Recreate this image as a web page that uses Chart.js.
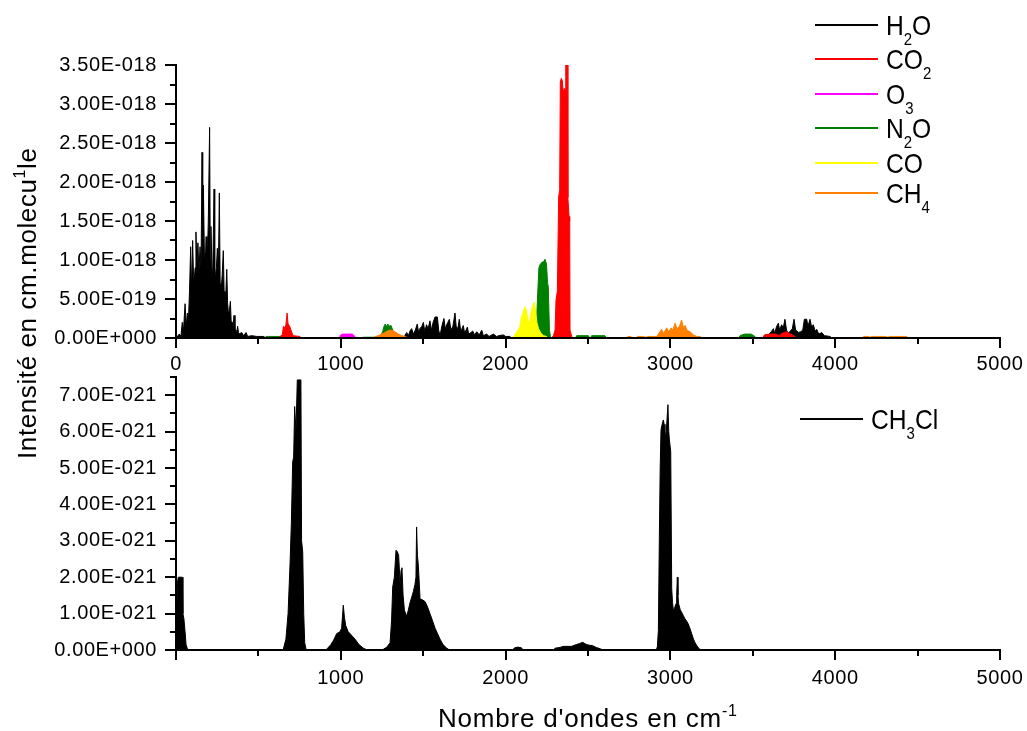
<!DOCTYPE html>
<html lang="fr">
<head>
<meta charset="UTF-8">
<title>Intensités des raies</title>
<script src="https://cdn.jsdelivr.net/npm/chart.js"></script>
<style>
  body { margin: 0; background: #fff; }
  #cadre { position: relative; width: 1027px; height: 731px; }
  #cadre canvas { position: absolute; left: 0; top: 0; }
</style>
</head>
<body>
<div id="cadre">
  <canvas id="haut" width="1027" height="731"></canvas>
  <canvas id="bas" width="1027" height="731"></canvas>
</div>
<script>
// [nombre d'onde cm-1, intensité en 1e-18] pour le panneau du haut
const h2o = [[0,0],[20,0.05],[30,0.02],[38,0.20],[45,0.08],[55,0.44],[62,0.15],[69,0.32],[76,0.25],[82,0.60],
  [89,1.17],[95,0.60],[101,1.25],[106,0.80],[111,0.75],[116,0.90],[121,1.36],[127,0.90],[133,1.22],[139,0.85],
  [146,1.17],[152,0.90],[158,2.38],[162,1.00],[166,1.96],[172,1.10],[178,1.00],[183,1.30],[188,0.85],[196,1.50],
  [204,2.70],[208,1.00],[212,1.43],[218,0.90],[223,0.83],[231,1.91],[235,0.80],[239,0.80],[245,0.90],[251,1.15],
  [257,0.80],[263,1.86],[268,0.70],[273,0.60],[280,0.80],[287,1.12],[292,0.60],[297,0.55],[303,0.60],[308,0.88],
  [313,0.45],[318,0.32],[324,0.35],[330,0.47],[335,0.20],[340,0.21],[346,0.15],[352,0.29],[358,0.10],[364,0.10],
  [369,0.08],[374,0.15],[380,0.05],[390,0.06],[399,0.07],[410,0.03],[425,0.07],[435,0.02],[459,0.03],[490,0.02],
  [528,0.02],[550,0],
  [1380,0],[1400,0.07],[1410,0.03],[1420,0.09],[1430,0.12],[1440,0.05],[1452,0.10],[1464,0.18],[1472,0.07],[1480,0.12],
  [1492,0.15],[1501,0.20],[1510,0.08],[1520,0.17],[1530,0.12],[1541,0.22],[1550,0.10],[1560,0.20],[1572,0.27],[1586,0.27],
  [1594,0.10],[1602,0.03],[1614,0.16],[1626,0.25],[1634,0.12],[1645,0.18],[1659,0.24],[1668,0.10],[1680,0.15],[1693,0.32],
  [1700,0.15],[1710,0.12],[1719,0.24],[1728,0.08],[1743,0.16],[1752,0.06],[1768,0.14],[1776,0.05],[1790,0.07],[1800,0.09],
  [1812,0.04],[1825,0.08],[1840,0.04],[1855,0.10],[1865,0.03],[1885,0.05],[1900,0.02],[1926,0.05],[1945,0.02],[1960,0.03],
  [1986,0.04],[2000,0.02],[2027,0.02],[2035,0],
  [3560,0],[3580,0.02],[3600,0.05],[3612,0.08],[3625,0.12],[3633,0.06],[3643,0.14],[3655,0.19],[3663,0.10],[3675,0.17],
  [3685,0.13],[3695,0.24],[3705,0.10],[3715,0.06],[3728,0.09],[3740,0.12],[3750,0.24],[3760,0.10],[3768,0.09],[3776,0.07],
  [3790,0.08],[3803,0.10],[3813,0.24],[3827,0.24],[3835,0.15],[3847,0.24],[3857,0.14],[3867,0.17],[3878,0.09],[3888,0.11],
  [3900,0.05],[3918,0.07],[3935,0.03],[3968,0.02],[3980,0]];

const co2 = [[620,0],[631,0.02],[645,0.04],[652,0.15],[660,0.13],[667,0.17],[674,0.32],[680,0.18],[690,0.15],[698,0.10],
  [710,0.03],[752,0.02],[760,0],
  [2280,0],[2290,0.03],[2300,0.10],[2306,0.49],[2314,0.60],[2322,1.81],[2328,1.90],[2332,3.28],[2338,3.33],[2344,3.30],
  [2350,3.14],[2356,3.20],[2361,3.18],[2365,3.50],[2374,3.50],[2378,1.80],[2385,1.56],[2389,1.50],[2391,0.10],[2401,0.02],[2410,0],
  [3560,0],[3570,0.04],[3600,0.05],[3640,0.05],[3660,0.03],[3670,0.05],[3690,0.07],[3705,0.08],[3720,0.06],[3740,0.04],
  [3755,0.02],[3765,0]];

const o3 = [[990,0],[995,0.03],[1010,0.05],[1070,0.05],[1086,0.02],[1092,0]];

const n2o = [[540,0],[546,0.02],[631,0.02],[640,0],
  [1130,0],[1137,0.01],[1208,0.01],[1240,0.03],[1254,0.08],[1262,0.15],[1270,0.18],[1278,0.14],[1285,0.18],[1295,0.15],
  [1305,0.16],[1315,0.10],[1323,0.05],[1330,0],
  [2180,0],[2189,0.27],[2195,0.58],[2202,0.90],[2209,0.94],[2220,0.97],[2232,0.98],[2239,1.01],[2248,0.95],[2255,0.70],
  [2259,0.66],[2266,0.10],[2272,0.02],[2280,0],
  [2425,0],[2431,0.03],[2502,0.03],[2510,0],[2515,0],[2522,0.03],[2603,0.03],[2610,0],
  [3415,0],[3422,0.03],[3450,0.05],[3490,0.05],[3513,0.02],[3520,0]];

const co = [[2040,0],[2050,0.02],[2060,0.05],[2075,0.10],[2087,0.15],[2095,0.25],[2105,0.32],[2113,0.38],[2120,0.40],
  [2128,0.33],[2136,0.22],[2144,0.19],[2152,0.30],[2160,0.38],[2168,0.43],[2174,0.46],[2182,0.35],[2190,0.20],[2200,0.12],
  [2215,0.06],[2230,0.03],[2249,0.02],[2255,0]];

const ch4 = [[1200,0],[1208,0.02],[1230,0.03],[1245,0.05],[1260,0.06],[1275,0.08],[1285,0.09],[1295,0.10],[1306,0.10],
  [1320,0.09],[1335,0.07],[1350,0.05],[1370,0.03],[1390,0.02],[1395,0],
  [2735,0],[2743,0.02],[2760,0.02],[2765,0],[2790,0],[2800,0.02],[2830,0.02],[2850,0.01],[2870,0.02],[2917,0.02],
  [2930,0.06],[2947,0.11],[2960,0.06],[2977,0.13],[2990,0.08],[3005,0.13],[3015,0.10],[3028,0.19],[3040,0.12],[3055,0.15],
  [3068,0.23],[3078,0.14],[3090,0.16],[3100,0.10],[3119,0.08],[3140,0.04],[3160,0.02],[3180,0.02],[3190,0],
  [4165,0],[4171,0.02],[4200,0.02],[4210,0.01],[4225,0.02],[4300,0.02],[4320,0.01],[4330,0.02],[4434,0.02],[4440,0]];

// [nombre d'onde cm-1, intensité en 1e-21] pour le panneau du bas
const ch3cl = [[0,1.10],[4,1.09],[10,1.90],[14,2.00],[38,2.00],[42,1.00],[48,0.86],[55,0.50],[61,0.15],[70,0.02],[80,0],
  [650,0],[667,0.30],[680,1.00],[692,2.37],[700,3.50],[708,5.17],[714,5.30],[720,6.69],[728,6.00],[736,7.42],[758,7.42],
  [762,3.00],[769,2.69],[775,1.00],[781,0.20],[790,0],
  [900,0],[914,0.02],[940,0.15],[960,0.30],[975,0.45],[995,0.50],[1005,0.60],[1015,1.23],[1022,0.90],[1030,0.67],
  [1045,0.50],[1056,0.45],[1070,0.38],[1086,0.30],[1110,0.15],[1137,0.05],[1160,0],
  [1240,0],[1258,0.02],[1280,0.08],[1299,0.20],[1308,0.80],[1315,1.73],[1325,2.00],[1335,2.74],[1343,2.70],[1351,2.60],
  [1360,1.80],[1366,2.20],[1371,2.26],[1378,1.50],[1386,1.09],[1400,0.93],[1410,1.10],[1420,1.30],[1430,1.45],[1440,1.60],
  [1450,1.80],[1456,2.00],[1460,3.38],[1465,2.60],[1471,2.30],[1481,1.40],[1495,1.38],[1511,1.33],[1525,1.20],[1541,1.00],
  [1557,0.80],[1572,0.60],[1587,0.45],[1602,0.30],[1620,0.15],[1643,0.05],[1660,0],
  [2040,0],[2056,0.06],[2075,0.08],[2095,0.06],[2104,0.02],[2110,0],
  [2290,0],[2300,0.05],[2330,0.07],[2350,0.10],[2371,0.10],[2400,0.10],[2430,0.15],[2450,0.18],[2468,0.21],[2490,0.15],
  [2510,0.13],[2528,0.12],[2550,0.07],[2577,0.03],[2590,0],
  [2915,0],[2921,0.10],[2927,0.54],[2933,3.11],[2938,5.00],[2943,6.05],[2950,6.20],[2957,6.32],[2962,6.20],[2967,5.77],
  [2975,6.00],[2985,6.74],[2990,6.00],[2994,5.77],[3002,5.45],[3008,1.69],[3013,1.30],[3018,1.09],[3025,1.15],[3034,1.27],
  [3038,1.50],[3042,2.00],[3046,1.50],[3050,1.27],[3060,1.10],[3068,1.04],[3078,0.95],[3088,0.86],[3098,0.80],[3108,0.72],
  [3118,0.60],[3129,0.45],[3140,0.30],[3150,0.20],[3159,0.13],[3175,0.03],[3190,0]];

const xLabelsHaut = ['0', '1000', '2000', '3000', '4000', '5000'];
const xLabelsBas = ['', '1000', '2000', '3000', '4000', '5000'];
const yLabelsHaut = ['0.00E+000', '5.00E-019', '1.00E-018', '1.50E-018', '2.00E-018', '2.50E-018', '3.00E-018', '3.50E-018'];
const yLabelsBas = ['0.00E+000', '1.00E-021', '2.00E-021', '3.00E-021', '4.00E-021', '5.00E-021', '6.00E-021', '7.00E-021'];

const POLICE = '"Liberation Sans", Arial, sans-serif';

function serie(label, points, couleur, ordre) {
  return {
    label: label,
    data: points.map(p => ({ x: p[0], y: p[1] })),
    borderColor: couleur,
    backgroundColor: couleur,
    borderWidth: 1,
    pointRadius: 0,
    tension: 0,
    fill: 'origin',
    order: ordre
  };
}

function axeX(labels, hauteur, ecart) {
  return {
    type: 'linear', min: 0, max: 5000,
    afterBuildTicks: s => {
      s.ticks = [];
      for (let v = 0; v <= 5000; v += 500) s.ticks.push({ value: v });
    },
    afterFit: s => {
      s.height = hauteur;
      s.paddingLeft = 0;
      s.paddingRight = 0;
    },
    grid: { display: false, drawTicks: false },
    border: { display: true, color: '#000', width: 2, z: 1 },
    ticks: {
      autoSkip: false, maxRotation: 0, padding: ecart, color: '#000',
      font: { family: POLICE, size: 20 },
      callback: (v, i) => i % 2 === 0 ? labels[i / 2] : ''
    }
  };
}

function axeY(max, pas, labels) {
  return {
    type: 'linear', min: 0, max: max,
    afterBuildTicks: s => {
      s.ticks = [];
      const n = Math.round(max / pas);
      for (let i = 0; i <= n; i++) s.ticks.push({ value: i * pas });
    },
    afterFit: s => { s.width = 176; },
    grid: { display: false, drawTicks: false },
    border: { display: true, color: '#000', width: 2, z: 1 },
    ticks: {
      autoSkip: false, padding: 19, color: '#000',
      font: { family: POLICE, size: 20 },
      callback: (v, i) => i % 2 === 0 ? (labels[i / 2] || '') : ''
    }
  };
}

// graduations majeures / mineures à l'extérieur des axes
const graduations = {
  id: 'graduations',
  beforeDraw(chart) { chart.ctx.letterSpacing = '0.6px'; },
  afterDraw(chart) {
    const { ctx, chartArea, scales } = chart;
    ctx.save();
    ctx.strokeStyle = '#000';
    ctx.lineWidth = 2;
    ctx.beginPath();
    scales.x.ticks.forEach((t, i) => {
      const px = Math.round(scales.x.getPixelForValue(t.value));
      ctx.moveTo(px, chartArea.bottom);
      ctx.lineTo(px, chartArea.bottom + (i % 2 === 0 ? 10 : 6));
    });
    scales.y.ticks.forEach((t, i) => {
      const py = Math.round(scales.y.getPixelForValue(t.value));
      ctx.moveTo(chartArea.left, py);
      ctx.lineTo(chartArea.left - (i % 2 === 0 ? 11 : 6), py);
    });
    ctx.stroke();
    ctx.restore();
  }
};

// texte avec indices / exposants ; sx = compression horizontale
function texte(ctx, morceaux, x, y, taille, sx) {
  let cx = x;
  morceaux.forEach(([t, pos]) => {
    const f = pos ? Math.round(taille * 0.6) : taille;
    ctx.font = f + 'px ' + POLICE;
    const dy = pos === 'sub' ? taille * 0.38 : pos === 'sup' ? -taille * 0.42 : 0;
    ctx.save();
    ctx.translate(cx, y + dy);
    ctx.scale(sx, 1);
    ctx.fillText(t, 0, 0);
    ctx.restore();
    cx += ctx.measureText(t).width * sx;
  });
}

function legende(ctx, entrees) {
  ctx.save();
  ctx.letterSpacing = '0px';
  ctx.textBaseline = 'alphabetic';
  ctx.fillStyle = '#000';
  entrees.forEach(e => {
    ctx.strokeStyle = e.couleur;
    ctx.lineWidth = 2;
    ctx.beginPath();
    ctx.moveTo(e.x0, e.y);
    ctx.lineTo(e.x0 + 63, e.y);
    ctx.stroke();
    texte(ctx, e.nom, e.x0 + 71, e.y + 9.5, 28, 0.88);
  });
  ctx.restore();
}

const legendeHaut = {
  id: 'legendeHaut',
  afterDraw(chart) {
    legende(chart.ctx, [
      { nom: [['H', ''], ['2', 'sub'], ['O', '']], couleur: '#000000', x0: 815, y: 25 },
      { nom: [['CO', ''], ['2', 'sub']], couleur: '#ff0000', x0: 815, y: 59 },
      { nom: [['O', ''], ['3', 'sub']], couleur: '#ff00ff', x0: 815, y: 94 },
      { nom: [['N', ''], ['2', 'sub'], ['O', '']], couleur: '#008000', x0: 815, y: 128 },
      { nom: [['CO', '']], couleur: '#ffff00', x0: 815, y: 163 },
      { nom: [['CH', ''], ['4', 'sub']], couleur: '#ff8000', x0: 815, y: 193 }
    ]);
  }
};

const habillageBas = {
  id: 'habillageBas',
  afterDraw(chart) {
    const ctx = chart.ctx;
    legende(ctx, [
      { nom: [['CH', ''], ['3', 'sub'], ['Cl', '']], couleur: '#000000', x0: 800, y: 419 }
    ]);
    ctx.save();
    ctx.fillStyle = '#000';
    ctx.textBaseline = 'alphabetic';
    ctx.letterSpacing = '0.8px';
    texte(ctx, [["Nombre d'ondes en cm", ''], ['-1', 'sup']], 438, 727, 26, 1);
    ctx.translate(36, 459);
    ctx.rotate(-Math.PI / 2);
    ctx.letterSpacing = '0.6px';
    texte(ctx, [['Intensité en cm.molecu', ''], ['1', 'sup'], ['le', '']], 0, 0, 26, 1);
    ctx.restore();
  }
};

new Chart(document.getElementById('haut'), {
  type: 'line',
  data: {
    datasets: [
      serie('H2O', h2o, '#000000', 6),
      serie('CO2', co2, '#ff0000', 5),
      serie('O3', o3, '#ff00ff', 4),
      serie('N2O', n2o, '#008000', 3),
      serie('CO', co, '#ffff00', 2),
      serie('CH4', ch4, '#ff8000', 1)
    ]
  },
  options: {
    responsive: false,
    animation: false,
    layout: { padding: { top: 65, right: 27, left: 0, bottom: 0 } },
    plugins: { legend: { display: false }, tooltip: { enabled: false } },
    scales: {
      x: axeX(xLabelsHaut, 731 - 338, 14),
      y: axeY(3.5, 0.25, yLabelsHaut)
    }
  },
  plugins: [graduations, legendeHaut]
});

new Chart(document.getElementById('bas'), {
  type: 'line',
  data: {
    datasets: [serie('CH3Cl', ch3cl, '#000000', 1)]
  },
  options: {
    responsive: false,
    animation: false,
    layout: { padding: { top: 377, right: 27, left: 0, bottom: 0 } },
    plugins: { legend: { display: false }, tooltip: { enabled: false } },
    scales: {
      x: axeX(xLabelsBas, 731 - 650, 16),
      y: axeY(7.5, 0.5, yLabelsBas)
    }
  },
  plugins: [graduations, habillageBas]
});
</script>
</body>
</html>
